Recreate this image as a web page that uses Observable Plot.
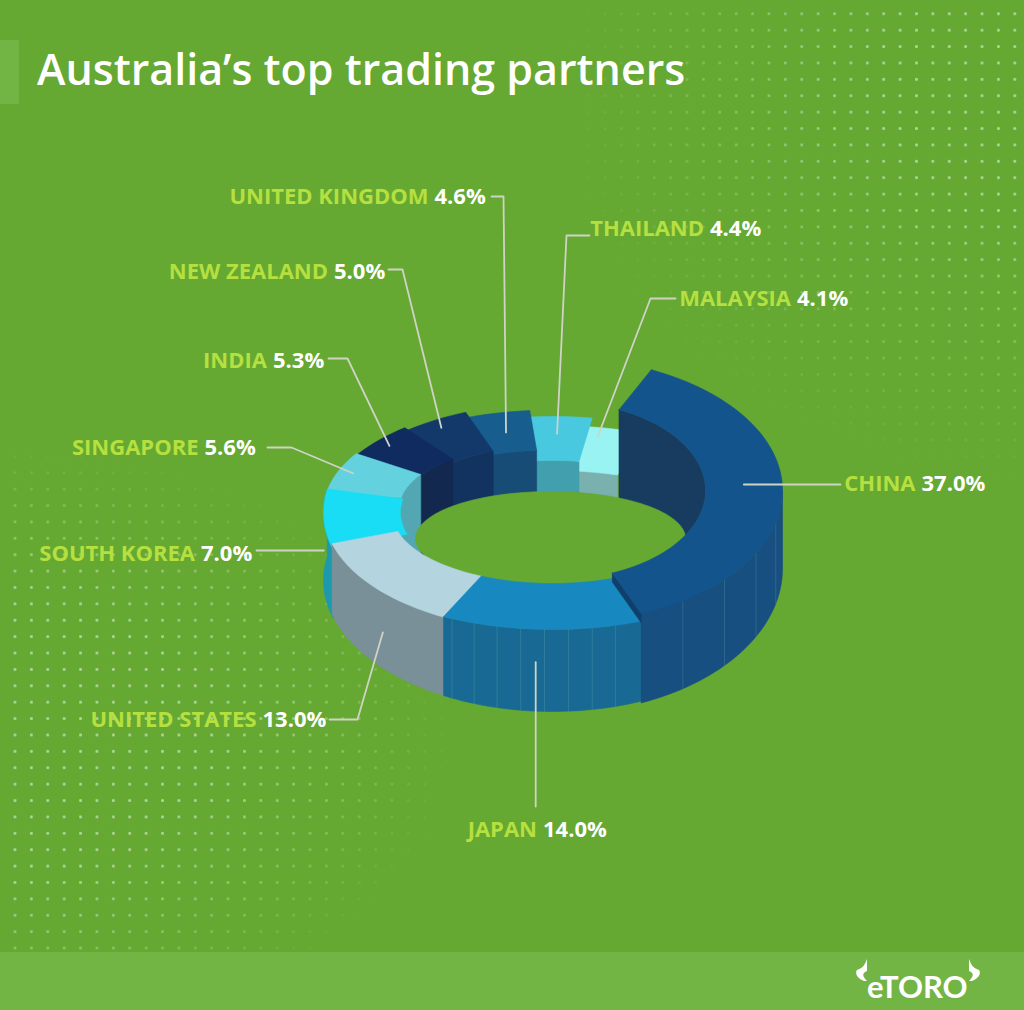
<!DOCTYPE html>
<html>
<head>
<meta charset="utf-8">
<script src="https://cdn.jsdelivr.net/npm/d3@7"></script>
<script src="https://cdn.jsdelivr.net/npm/@observablehq/plot@0.6"></script>
<style>
  html, body { margin: 0; padding: 0; background: #65a832; }
  #page { position: relative; width: 1024px; height: 1010px; overflow: hidden; background: #65a832; }
  .dots { position: absolute; inset: 0;
    background-image: radial-gradient(circle, rgba(255,255,255,.5) 1.1px, rgba(255,255,255,0) 1.9px);
    background-size: 16.4px 16.4px; background-position: 6.8px 5.6px; }
  #dotsTR { -webkit-mask-image: radial-gradient(ellipse 470px 400px at 1024px 90px, #000 30%, rgba(0,0,0,.45) 65%, transparent 100%);
            mask-image: radial-gradient(ellipse 470px 400px at 1024px 90px, #000 30%, rgba(0,0,0,.45) 65%, transparent 100%); }
  #dotsBL { -webkit-mask-image: radial-gradient(ellipse 460px 300px at 0px 740px, #000 45%, rgba(0,0,0,.5) 75%, transparent 100%);
            mask-image: radial-gradient(ellipse 460px 300px at 0px 740px, #000 45%, rgba(0,0,0,.5) 75%, transparent 100%); }
  #band { position: absolute; left: 0; right: 0; top: 952px; height: 58px; background: #72b545; }
  #marker { position: absolute; left: 0; top: 40px; width: 19px; height: 64px; background: #72b545; }
  #title { position: absolute; left: 37px; top: 39px; margin: 0; color: #fff;
    font: 600 43px/60px "Open Sans", sans-serif; letter-spacing: 0; white-space: nowrap; }
  #logo { position: absolute; left: 867px; top: 965px; color: #fff;
    font: 700 31px/42px Lato, sans-serif; letter-spacing: 0; white-space: nowrap; }
  #horns { position: absolute; left: 850px; top: 955px; }
  #chart { position: absolute; left: 0; top: 0; }
  #chart svg { display: block; background: transparent; }
</style>
</head>
<body>
<div id="page">
  <div class="dots" id="dotsTR"></div>
  <div class="dots" id="dotsBL"></div>
  <div id="band"></div>
  <div id="marker"></div>
  <h1 id="title">Australia’s top trading partners</h1>
  <div id="chart"></div>
  <svg id="horns" width="140" height="32" viewBox="0 0 140 32">
    <path d="M17 4 C14 12 12 13 7 15 C5 17 6 23 14 26 L17 26 C12 21 12 18 17 16 Z" fill="#fff"/>
    <path d="M119 4 C122 12 124 13 129 15 C131 17 130 23 122 26 L119 26 C124 21 124 18 119 16 Z" fill="#fff"/>
  </svg>
  <div id="logo">eTORO</div>
</div>
<script>
// ---- data ----
const partners = ["CHINA","JAPAN","UNITED STATES","SOUTH KOREA","SINGAPORE","INDIA","NEW ZEALAND","UNITED KINGDOM","THAILAND","MALAYSIA"];
const shares   = [37.0,14.0,13.0,7.0,5.6,5.3,5.0,4.6,4.4,4.1];

// ---- styles ----
const topColors   = ["#14548c","#1889c0","#b4d4e0","#19dcf5","#64d2de","#0f2b60","#13396b","#175d8e","#48c9e0","#99f3f2"];
const outerColors = ["#174f80","#186a94","#7a9099","#1d99ad","#52a7b2","#13284f","#12335f","#164c76","#419fae","#7ab0ad"];
const innerColors = ["#183b60","#186a94","#7a9099","#1d99ad","#52a7b2","#13284f","#12335f","#164c76","#419fae","#7ab0ad"];
const bgColor = "#65a832", nameColor = "#b5e03f", leaderColor = "#cfd3c6";

// ---- layout of the drawn 3D ring: centre and radii of each slice's top face, base ellipse ----
const startAngle = 294.8;
const ringCx = [556,552,552,552,552,552,552,552,552,552];
const ringCy = [490,522,513,512,507,511,520,509.5,520,520];
const ringA  = [226,229,228,229,228,228,228,225,228,228];
const ringB  = [133,107,118,130,106,110,117,100,104,95];
const holeA  = [149,150,160,152,153,154,156,157,152,155];
const holeB  = [89,61,70,75,65,69,75,60,60,50];
const baseCy = [568,579,580,580,0,0,0,0,0,0];
const baseB  = [145,132,131,131,0,0,0,0,0,0];
const floorE = {cx:550, cy:538, a:135, b:47};
const wallDrop = 95, endFaceDepth = 9, tuck = 2;
const facetStep = [14,6,0,0,0,0,0,0,0,0];

// ---- layout of labels: value/name junction, text line, leader elbow, leader end on its slice ----
const labelX = [918,539.5,259,197.5,201,269.5,330.5,431,706.5,793.5];
const labelY = [483,829,719,553,447,360,271,196,228,298];
const lineY  = [484,806,719,550,447,358,269,196,235,298];
const lineStart = [840,null,329,256,267,328,388,491,589,675];
const elbowX = [null,null,357,null,291,347,402,503,566,650];
const leaderT = [.47,.52,.42,.47,.5,.5,.5,.5,.45,.15];
const leaderF = [.5,1,1,1,.8,.8,.8,.5,.61,.8];
const leaderDown = [0,33,40,33,0,0,0,0,0,0];

// ---- geometry derived from the shares ----
const total = d3.sum(shares);
let acc = startAngle;
const angles = shares.map(v => { const a0 = acc; acc += v / total * 360; return [a0, acc]; });
// every slice but the last painted tucks slightly under the slice painted after it
const drawFrom = i => angles[i][0] - (i === 0 ? 0 : tuck);
const rad = d => d * Math.PI / 180;
function arc(a0, a1, fn) {
  const n = Math.max(2, Math.ceil(Math.abs(a1 - a0) / 2));
  return d3.range(n + 1).map(k => fn(a0 + (a1 - a0) * k / n));
}
const outerPt = i => t => ({x: ringCx[i] + ringA[i] * Math.cos(rad(t)), y: ringCy[i] + ringB[i] * Math.sin(rad(t))});
const innerPt = i => t => ({x: ringCx[i] + holeA[i] * Math.cos(rad(t)), y: ringCy[i] + holeB[i] * Math.sin(rad(t))});
const basePt  = i => t => ({x: ringCx[i] + ringA[i] * Math.cos(rad(t)), y: baseCy[i] + baseB[i] * Math.sin(rad(t))});

const poly = (pts, fill) => Plot.line([...pts, pts[0]], {x: "x", y: "y", fill, stroke: fill, strokeWidth: 0.6, curve: "linear"});
const topFace = i => { const a0 = drawFrom(i), a1 = angles[i][1];
  return poly([...arc(a0, a1, outerPt(i)), ...arc(a1, a0, innerPt(i))], topColors[i]); };
const innerWall = i => { const a0 = drawFrom(i), a1 = angles[i][1];
  return poly([...arc(a0, a1, innerPt(i)), ...arc(a1, a0, innerPt(i)).map(p => ({x: p.x, y: p.y + wallDrop}))], innerColors[i]); };
const wallFrom = i => { const a1 = angles[i][1]; return a1 > 360 ? Math.max(drawFrom(i), 360) : drawFrom(i); };
const outerWall = i => { // only the part of the rim that faces the viewer
  const a1 = angles[i][1], a0 = wallFrom(i);
  return poly([...arc(a0, a1, outerPt(i)), ...arc(a1, a0, basePt(i))], outerColors[i]); };
const endFace = i => { const a1 = angles[i][1]; const p = innerPt(i)(a1), q = outerPt(i)(a1);
  return poly([p, q, {x: q.x, y: q.y + endFaceDepth}, {x: p.x, y: p.y + endFaceDepth}], "#103f6c"); };
// the faint vertical seams of the rim
const facets = i => {
  const a1 = angles[i][1], a0 = Math.max(wallFrom(i), angles[i][0]);
  const rows = d3.range(a0 + facetStep[i], a1, facetStep[i]).flatMap(t => {
    const p = outerPt(i)(t), q = basePt(i)(t);
    return [{...p, t}, {x: p.x, y: q.y, t}];
  });
  return Plot.line(rows, {x: "x", y: "y", z: "t", stroke: "#7fc0b0", strokeOpacity: 0.22, strokeWidth: 1, curve: "linear"});
};

// leaders
const leaderPaths = partners.map((name, i) => {
  const [a0, a1] = angles[i];
  const t = a0 + (a1 - a0) * leaderT[i], f = leaderF[i];
  const ip = innerPt(i)(t), op = outerPt(i)(t);
  const end = {x: ip.x + (op.x - ip.x) * f, y: ip.y + (op.y - ip.y) * f + leaderDown[i]};
  const pts = lineStart[i] == null ? [{x: end.x, y: lineY[i]}, end]
    : elbowX[i] == null ? [{x: lineStart[i], y: lineY[i]}, {x: end.x, y: lineY[i]}]
    : [{x: lineStart[i], y: lineY[i]}, {x: elbowX[i], y: lineY[i]}, end];
  return pts.map(p => ({...p, name}));
}).flat();

const labels = partners.map((name, i) => ({name, value: shares[i].toFixed(1) + "%", x: labelX[i], y: labelY[i]}));
const font = {fontFamily: "'Open Sans', sans-serif", fontSize: 22, fontWeight: 700, lineAnchor: "middle"};

const floorPts = arc(0, 360, t => ({x: floorE.cx + floorE.a * Math.cos(rad(t)), y: floorE.cy + floorE.b * Math.sin(rad(t))}));

const chart = Plot.plot({
  width: 1024, height: 1010, margin: 0,
  x: {domain: [0, 1024], range: [0, 1024], axis: null},
  y: {domain: [0, 1010], range: [0, 1010], axis: null},
  style: {background: "transparent"},
  marks: [
    // back slices, far side first
    ...[9, 8, 7, 6, 5, 4].flatMap(i => [innerWall(i), topFace(i)]),
    innerWall(0),
    poly(floorPts, bgColor),
    // front slices
    outerWall(3), topFace(3),
    outerWall(2), topFace(2),
    outerWall(1), facets(1), topFace(1),
    outerWall(0), facets(0), endFace(0), topFace(0),
    // leaders and labels
    Plot.line(leaderPaths, {x: "x", y: "y", z: "name", stroke: leaderColor, strokeWidth: 1.8, curve: "linear"}),
    Plot.text(labels, {x: "x", y: "y", text: "name", textAnchor: "end", fill: nameColor, dx: -3, ...font}),
    Plot.text(labels, {x: "x", y: "y", text: "value", textAnchor: "start", fill: "#fff", dx: 3, ...font})
  ]
});
document.getElementById("chart").appendChild(chart);
</script>
</body>
</html>
